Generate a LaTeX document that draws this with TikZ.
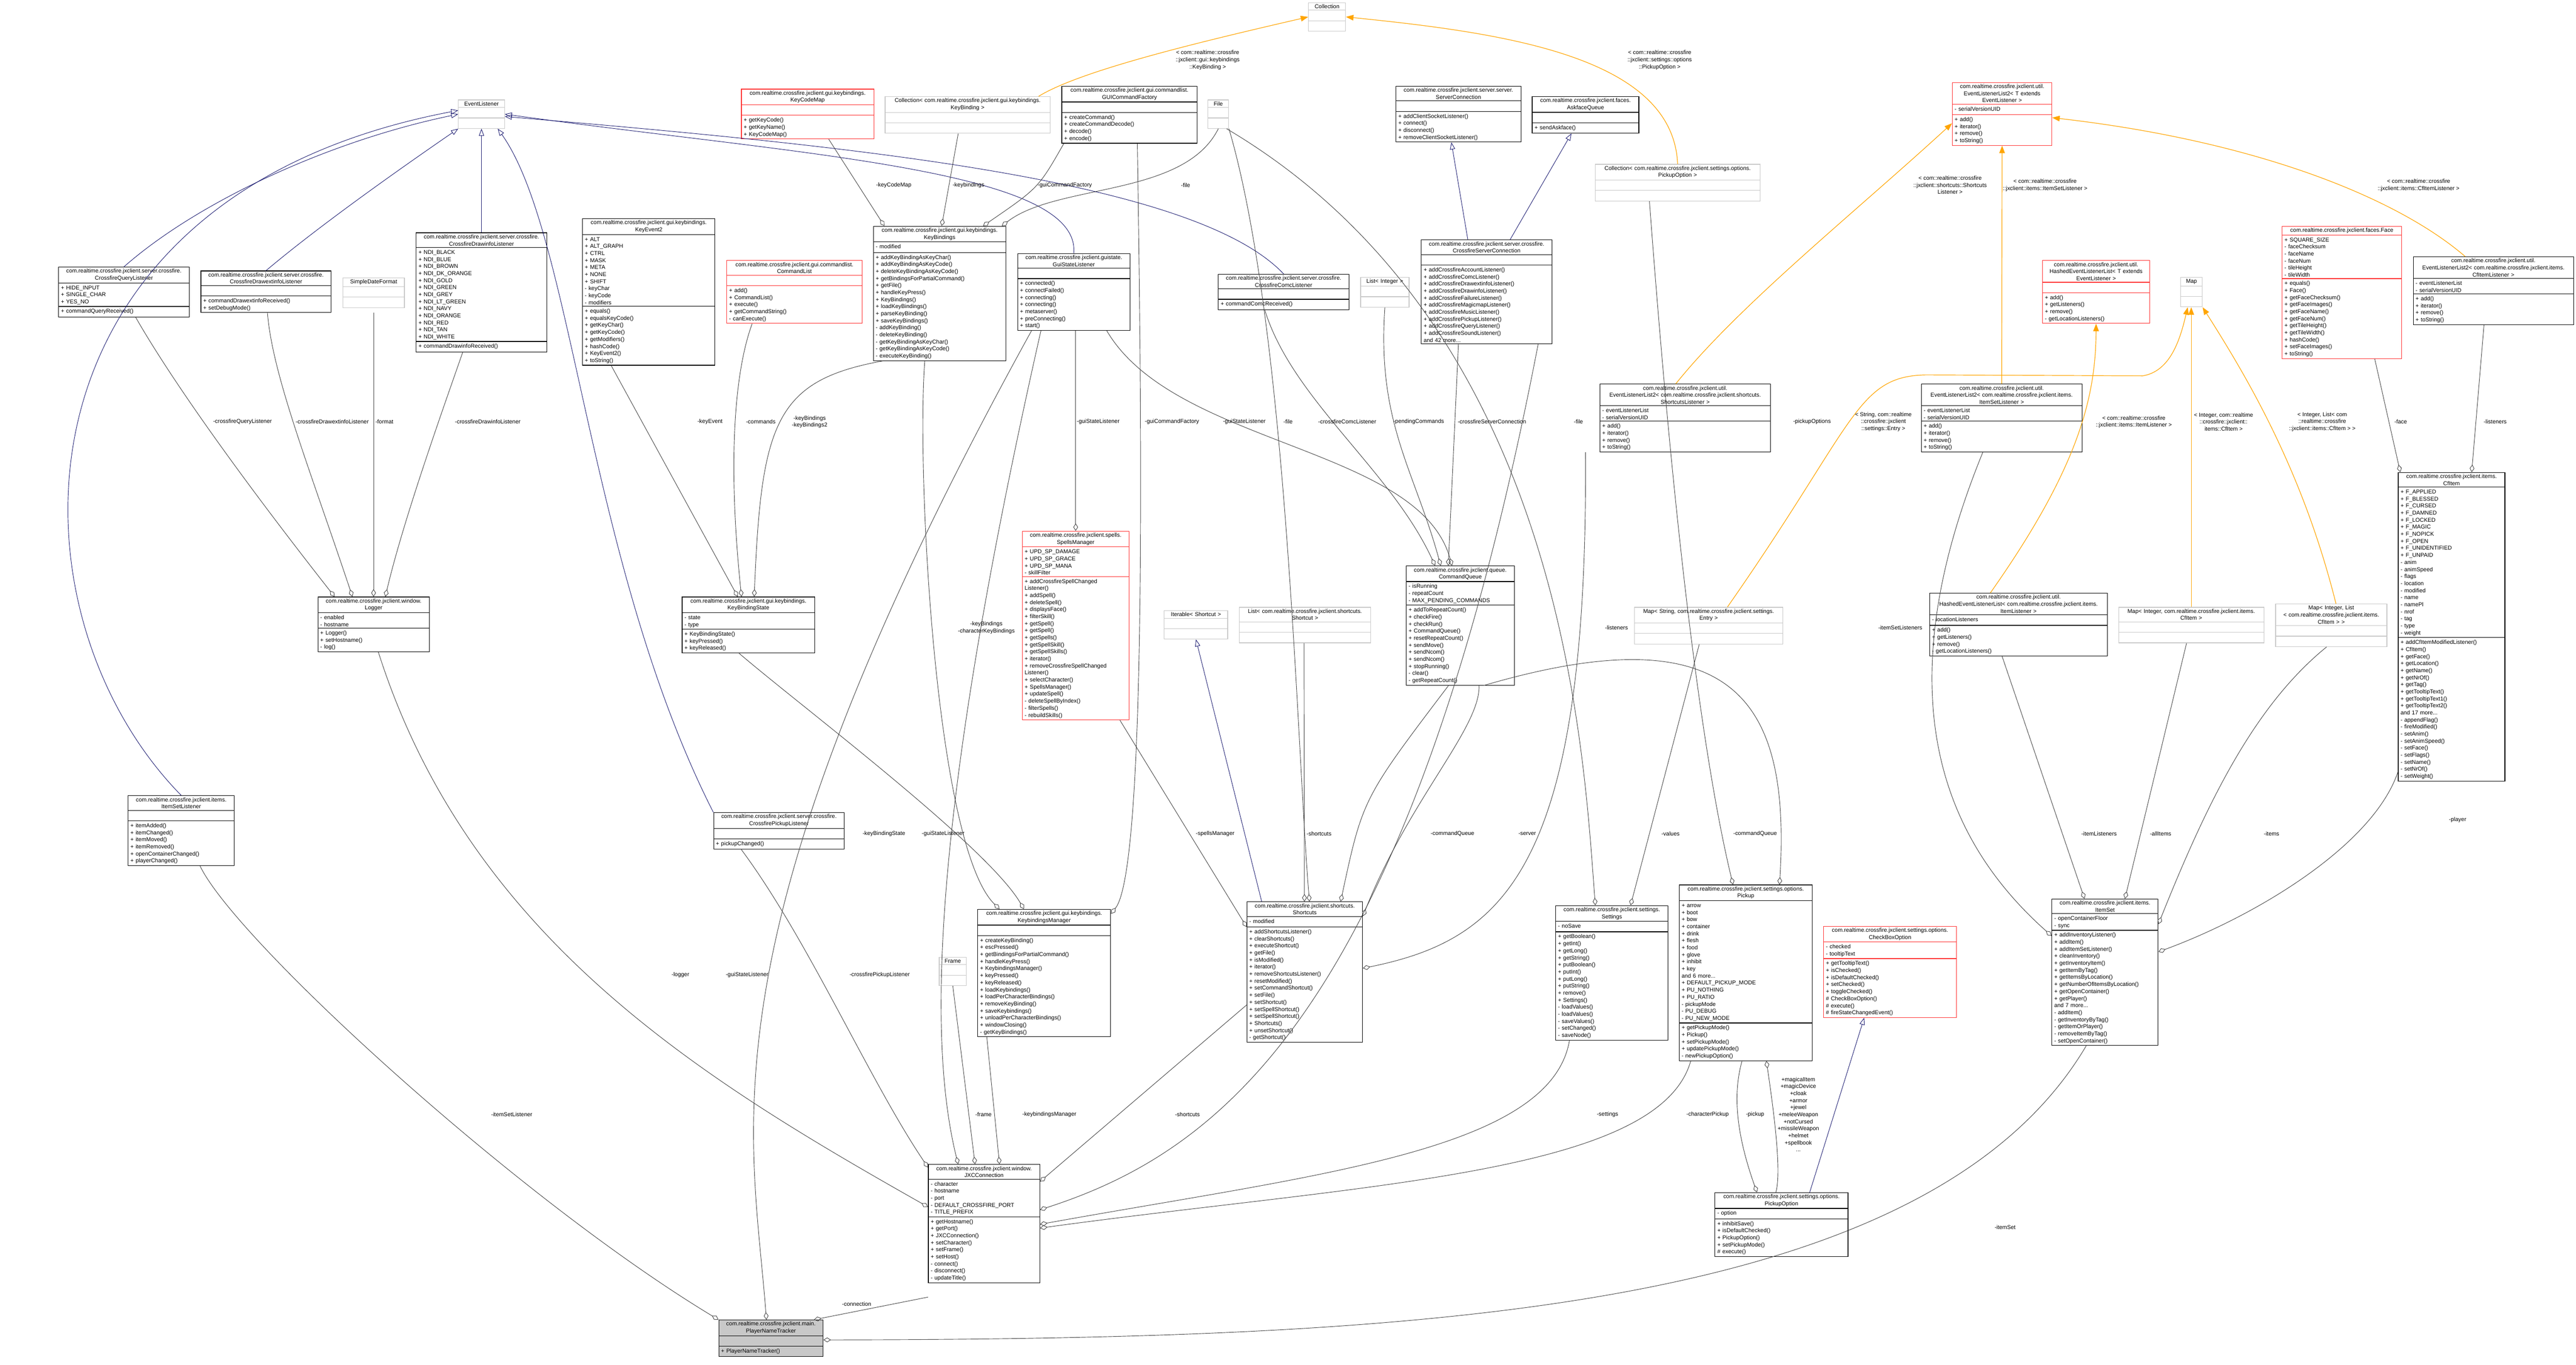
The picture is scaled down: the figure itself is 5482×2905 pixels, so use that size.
\documentclass[tikz,border=0pt]{standalone}
\usepackage{fontspec}
\setmainfont{Liberation Sans}
\usetikzlibrary{shapes.multipart,arrows.meta}
\definecolor{inhc}{HTML}{191970}
\definecolor{tmplc}{HTML}{FFA500}
\definecolor{redc}{HTML}{FF3030}
\definecolor{grayc}{HTML}{C8C8C8}
\tikzset{
 cls/.style={rectangle split, rectangle split parts=3, draw=black, line width=1.3pt, anchor=north west, align=left, inner xsep=5pt, inner ysep=3pt, font=\fontsize{12}{15}\selectfont, fill=white},
 graybox/.style={draw=grayc},
 redbox/.style={draw=redc},
 hlbox/.style={fill=grayc},
 plainbox/.style={},
 lbl/.style={font=\fontsize{12}{15}\selectfont, align=center, inner sep=1pt},
 agg/.style={draw=black!75, line width=1pt, {Diamond[open,length=16pt,width=10pt,line width=1pt]}-},
 inh/.style={draw=inhc, line width=1pt, -{Triangle[open,length=15pt,width=11pt,line width=1pt]}},
 tmpl/.style={draw=tmplc, line width=1.3pt, -{Triangle[length=16pt,width=12pt]}},
}
\newcommand\cls[8]{\node[cls,#5,text width=\the\numexpr#4-10\relax pt] (#1) at (#2,#3) {\centering #6\par\nodepart{two}\strut #7\nodepart{three}\strut #8};}
\begin{document}
\begin{tikzpicture}[x=1pt,y=-1pt]
\useasboundingbox[fill=white] (0,0) rectangle (5482,2905);
% ---------- classes ----------
\cls{el}{975}{212}{98}{graybox}{EventListener}{}{}
\cls{ql}{124}{568}{278}{plainbox}{com.realtime.crossfire.jxclient.server.crossfire.\\CrossfireQueryListener}{+ HIDE\_INPUT\\+ SINGLE\_CHAR\\+ YES\_NO}{+ commandQueryReceived()}
\cls{dx}{427}{576}{277}{plainbox}{com.realtime.crossfire.jxclient.server.crossfire.\\CrossfireDrawextinfoListener}{}{+ commandDrawextinfoReceived()\\+ setDebugMode()}
\cls{sdf}{729}{591}{131}{graybox}{SimpleDateFormat}{}{}
\cls{di}{885}{495}{278}{plainbox}{com.realtime.crossfire.jxclient.server.crossfire.\\CrossfireDrawinfoListener}{+ NDI\_BLACK\\+ NDI\_BLUE\\+ NDI\_BROWN\\+ NDI\_DK\_ORANGE\\+ NDI\_GOLD\\+ NDI\_GREEN\\+ NDI\_GREY\\+ NDI\_LT\_GREEN\\+ NDI\_NAVY\\+ NDI\_ORANGE\\+ NDI\_RED\\+ NDI\_TAN\\+ NDI\_WHITE}{+ commandDrawinfoReceived()}
\cls{ke}{1239}{465}{282}{plainbox}{com.realtime.crossfire.jxclient.gui.keybindings.\\KeyEvent2}{+ ALT\\+ ALT\_GRAPH\\+ CTRL\\+ MASK\\+ META\\+ NONE\\+ SHIFT\\- keyChar\\- keyCode\\- modifiers}{+ equals()\\+ equalsKeyCode()\\+ getKeyChar()\\+ getKeyCode()\\+ getModifiers()\\+ hashCode()\\+ KeyEvent2()\\+ toString()}
\cls{kcm}{1577}{189}{282}{redbox}{com.realtime.crossfire.jxclient.gui.keybindings.\\KeyCodeMap}{}{+ getKeyCode()\\+ getKeyName()\\+ KeyCodeMap()}
\cls{ckb}{1883}{205}{351}{graybox}{Collection< com.realtime.crossfire.jxclient.gui.keybindings.\\KeyBinding >}{}{}
\cls{gcf}{2259}{183}{288}{plainbox}{com.realtime.crossfire.jxclient.gui.commandlist.\\GUICommandFactory}{}{+ createCommand()\\+ createCommandDecode()\\+ decode()\\+ encode()}
\cls{file}{2570}{212}{44}{graybox}{File}{}{}
\cls{col}{2784}{5}{79}{graybox}{Collection}{}{}
\cls{kb}{1858}{481}{282}{plainbox}{com.realtime.crossfire.jxclient.gui.keybindings.\\KeyBindings}{- modified}{+ addKeyBindingAsKeyChar()\\+ addKeyBindingAsKeyCode()\\+ deleteKeyBindingAsKeyCode()\\+ getBindingsForPartialCommand()\\+ getFile()\\+ handleKeyPress()\\+ KeyBindings()\\+ loadKeyBindings()\\+ parseKeyBinding()\\+ saveKeyBindings()\\- addKeyBinding()\\- deleteKeyBinding()\\- getKeyBindingAsKeyChar()\\- getKeyBindingAsKeyCode()\\- executeKeyBinding()}
\cls{cl}{1546}{554}{288}{redbox}{com.realtime.crossfire.jxclient.gui.commandlist.\\CommandList}{}{+ add()\\+ CommandList()\\+ execute()\\+ getCommandString()\\- canExecute()}
\cls{gsl}{2165}{539}{239}{plainbox}{com.realtime.crossfire.jxclient.guistate.\\GuiStateListener}{}{+ connected()\\+ connectFailed()\\+ connecting()\\+ connecting()\\+ metaserver()\\+ preConnecting()\\+ start()}
\cls{comc}{2592}{583}{278}{plainbox}{com.realtime.crossfire.jxclient.server.crossfire.\\CrossfireComcListener}{}{+ commandComcReceived()}
\cls{sc}{2970}{183}{266}{plainbox}{com.realtime.crossfire.jxclient.server.server.\\ServerConnection}{}{+ addClientSocketListener()\\+ connect()\\+ disconnect()\\+ removeClientSocketListener()}
\cls{afq}{3260}{205}{227}{plainbox}{com.realtime.crossfire.jxclient.faces.\\AskfaceQueue}{}{+ sendAskface()}
\cls{cpo}{3394}{349}{351}{graybox}{Collection< com.realtime.crossfire.jxclient.settings.options.\\PickupOption >}{}{}
\cls{csc}{3024}{510}{278}{plainbox}{com.realtime.crossfire.jxclient.server.crossfire.\\CrossfireServerConnection}{}{+ addCrossfireAccountListener()\\+ addCrossfireComcListener()\\+ addCrossfireDrawextinfoListener()\\+ addCrossfireDrawinfoListener()\\+ addCrossfireFailureListener()\\+ addCrossfireMagicmapListener()\\+ addCrossfireMusicListener()\\+ addCrossfirePickupListener()\\+ addCrossfireQueryListener()\\+ addCrossfireSoundListener()\\and 42 more...}
\cls{li}{2895}{590}{103}{graybox}{List< Integer >}{}{}
\cls{ellT}{4154}{175}{212}{redbox}{com.realtime.crossfire.jxclient.util.\\EventListenerList2< T extends\\EventListener >}{- serialVersionUID}{+ add()\\+ iterator()\\+ remove()\\+ toString()}
\cls{hT}{4346}{554}{228}{redbox}{com.realtime.crossfire.jxclient.util.\\HashedEventListenerList< T extends\\EventListener >}{}{+ add()\\+ getListeners()\\+ remove()\\- getLocationListeners()}
\cls{map}{4640}{590}{46}{graybox}{Map}{}{}
\cls{face}{4856}{481}{254}{redbox}{com.realtime.crossfire.jxclient.faces.Face}{+ SQUARE\_SIZE\\- faceChecksum\\- faceName\\- faceNum\\- tileHeight\\- tileWidth}{+ equals()\\+ Face()\\+ getFaceChecksum()\\+ getFaceImages()\\+ getFaceName()\\+ getFaceNum()\\+ getTileHeight()\\+ getTileWidth()\\+ hashCode()\\+ setFaceImages()\\+ toString()}
\cls{ellcf}{5135}{546}{341}{plainbox}{com.realtime.crossfire.jxclient.util.\\EventListenerList2< com.realtime.crossfire.jxclient.items.\\CfItemListener >}{- eventListenerList\\- serialVersionUID}{+ add()\\+ iterator()\\+ remove()\\+ toString()}
\cls{logger}{676}{1270}{237}{plainbox}{com.realtime.crossfire.jxclient.window.\\Logger}{- enabled\\- hostname}{+ Logger()\\+ setHostname()\\- log()}
\cls{isl}{272}{1693}{226}{plainbox}{com.realtime.crossfire.jxclient.items.\\ItemSetListener}{}{+ itemAdded()\\+ itemChanged()\\+ itemMoved()\\+ itemRemoved()\\+ openContainerChanged()\\+ playerChanged()}
\cls{kbs}{1451}{1270}{282}{plainbox}{com.realtime.crossfire.jxclient.gui.keybindings.\\KeyBindingState}{- state\\- type}{+ KeyBindingState()\\+ keyPressed()\\+ keyReleased()}
\cls{spm}{2175}{1130}{227}{redbox}{com.realtime.crossfire.jxclient.spells.\\SpellsManager}{+ UPD\_SP\_DAMAGE\\+ UPD\_SP\_GRACE\\+ UPD\_SP\_MANA\\- skillFilter}{+ addCrossfireSpellChanged\\Listener()\\+ addSpell()\\+ deleteSpell()\\+ displaysFace()\\+ filterSkill()\\+ getSpell()\\+ getSpell()\\+ getSpells()\\+ getSpellSkill()\\+ getSpellSkills()\\+ iterator()\\+ removeCrossfireSpellChanged\\Listener()\\+ selectCharacter()\\+ SpellsManager()\\+ updateSpell()\\- deleteSpellByIndex()\\- filterSpells()\\- rebuildSkills()}
\cls{iter}{2477}{1299}{135}{graybox}{Iterable< Shortcut >}{}{}
\cls{lsc}{2637}{1292}{279}{graybox}{List< com.realtime.crossfire.jxclient.shortcuts.\\Shortcut >}{}{}
\cls{cq}{2992}{1204}{230}{plainbox}{com.realtime.crossfire.jxclient.queue.\\CommandQueue}{- isRunning\\- repeatCount\\- MAX\_PENDING\_COMMANDS}{+ addToRepeatCount()\\+ checkFire()\\+ checkRun()\\+ CommandQueue()\\+ resetRepeatCount()\\+ sendMove()\\+ sendNcom()\\+ sendNcom()\\+ stopRunning()\\- clear()\\- getRepeatCount()}
\cls{ellsl}{3404}{817}{363}{plainbox}{com.realtime.crossfire.jxclient.util.\\EventListenerList2< com.realtime.crossfire.jxclient.shortcuts.\\ShortcutsListener >}{- eventListenerList\\- serialVersionUID}{+ add()\\+ iterator()\\+ remove()\\+ toString()}
\cls{mse}{3478}{1292}{315}{graybox}{Map< String, com.realtime.crossfire.jxclient.settings.\\Entry >}{}{}
\cls{ellisl}{4088}{817}{342}{plainbox}{com.realtime.crossfire.jxclient.util.\\EventListenerList2< com.realtime.crossfire.jxclient.items.\\ItemSetListener >}{- eventListenerList\\- serialVersionUID}{+ add()\\+ iterator()\\+ remove()\\+ toString()}
\cls{hil}{4106}{1262}{378}{plainbox}{com.realtime.crossfire.jxclient.util.\\HashedEventListenerList< com.realtime.crossfire.jxclient.items.\\ItemListener >}{- locationListeners}{+ add()\\+ getListeners()\\+ remove()\\- getLocationListeners()}
\cls{mic}{4508}{1292}{309}{graybox}{Map< Integer, com.realtime.crossfire.jxclient.items.\\CfItem >}{}{}
\cls{mil}{4842}{1285}{237}{graybox}{Map< Integer, List\\< com.realtime.crossfire.jxclient.items.\\CfItem > >}{}{}
\cls{cfi}{5103}{1005}{227}{plainbox}{com.realtime.crossfire.jxclient.items.\\CfItem}{+ F\_APPLIED\\+ F\_BLESSED\\+ F\_CURSED\\+ F\_DAMNED\\+ F\_LOCKED\\+ F\_MAGIC\\+ F\_NOPICK\\+ F\_OPEN\\+ F\_UNIDENTIFIED\\+ F\_UNPAID\\- anim\\- animSpeed\\- flags\\- location\\- modified\\- name\\- namePl\\- nrof\\- tag\\- type\\- weight}{+ addCfItemModifiedListener()\\+ CfItem()\\+ getFace()\\+ getLocation()\\+ getName()\\+ getNrOf()\\+ getTag()\\+ getTooltipText()\\+ getTooltipText1()\\+ getTooltipText2()\\and 17 more...\\- appendFlag()\\- fireModified()\\- setAnim()\\- setAnimSpeed()\\- setFace()\\- setFlags()\\- setName()\\- setNrOf()\\- setWeight()}
\cls{cpl}{1518}{1729}{278}{plainbox}{com.realtime.crossfire.jxclient.server.crossfire.\\CrossfirePickupListener}{}{+ pickupChanged()}
\cls{frame}{1998}{2037}{58}{graybox}{Frame}{}{}
\cls{jxc}{1975}{2478}{237}{plainbox}{com.realtime.crossfire.jxclient.window.\\JXCConnection}{- character\\- hostname\\- port\\- DEFAULT\_CROSSFIRE\_PORT\\- TITLE\_PREFIX}{+ getHostname()\\+ getPort()\\+ JXCConnection()\\+ setCharacter()\\+ setFrame()\\+ setHost()\\- connect()\\- disconnect()\\- updateTitle()}
\cls{pnt}{1529}{2809}{222}{hlbox}{com.realtime.crossfire.jxclient.main.\\PlayerNameTracker}{}{+ PlayerNameTracker()}
\cls{kbm}{2080}{1935}{283}{plainbox}{com.realtime.crossfire.jxclient.gui.keybindings.\\KeybindingsManager}{}{+ createKeyBinding()\\+ escPressed()\\+ getBindingsForPartialCommand()\\+ handleKeyPress()\\+ KeybindingsManager()\\+ keyPressed()\\+ keyReleased()\\+ loadKeybindings()\\+ loadPerCharacterBindings()\\+ removeKeyBinding()\\+ saveKeybindings()\\+ unloadPerCharacterBindings()\\+ windowClosing()\\- getKeyBindings()}
\cls{sh}{2653}{1919}{246}{plainbox}{com.realtime.crossfire.jxclient.shortcuts.\\Shortcuts}{- modified}{+ addShortcutsListener()\\+ clearShortcuts()\\+ executeShortcut()\\+ getFile()\\+ isModified()\\+ iterator()\\+ removeShortcutsListener()\\+ resetModified()\\+ setCommandShortcut()\\+ setFile()\\+ setShortcut()\\+ setSpellShortcut()\\+ setSpellShortcut()\\+ Shortcuts()\\+ unsetShortcut()\\- getShortcut()}
\cls{set}{3310}{1927}{239}{plainbox}{com.realtime.crossfire.jxclient.settings.\\Settings}{- noSave}{+ getBoolean()\\+ getInt()\\+ getLong()\\+ getString()\\+ putBoolean()\\+ putInt()\\+ putLong()\\+ putString()\\+ remove()\\+ Settings()\\- loadValues()\\- loadValues()\\- saveValues()\\- setChanged()\\- saveNode()}
\cls{pk}{3573}{1883}{283}{plainbox}{com.realtime.crossfire.jxclient.settings.options.\\Pickup}{+ arrow\\+ boot\\+ bow\\+ container\\+ drink\\+ flesh\\+ food\\+ glove\\+ inhibit\\+ key\\and 6 more...\\+ DEFAULT\_PICKUP\_MODE\\+ PU\_NOTHING\\+ PU\_RATIO\\- pickupMode\\- PU\_DEBUG\\- PU\_NEW\_MODE}{+ getPickupMode()\\+ Pickup()\\+ setPickupMode()\\+ updatePickupMode()\\- newPickupOption()}
\cls{cbo}{3880}{1971}{283}{redbox}{com.realtime.crossfire.jxclient.settings.options.\\CheckBoxOption}{- checked\\- tooltipText}{+ getTooltipText()\\+ isChecked()\\+ isDefaultChecked()\\+ setChecked()\\+ toggleChecked()\\\# CheckBoxOption()\\\# execute()\\\# fireStateChangedEvent()}
\cls{po}{3649}{2538}{283}{plainbox}{com.realtime.crossfire.jxclient.settings.options.\\PickupOption}{- option}{+ inhibitSave()\\+ isDefaultChecked()\\+ PickupOption()\\+ setPickupMode()\\\# execute()}
\cls{is}{4366}{1913}{226}{plainbox}{com.realtime.crossfire.jxclient.items.\\ItemSet}{- openContainerFloor\\- sync}{+ addInventoryListener()\\+ addItem()\\+ addItemSetListener()\\+ cleanInventory()\\+ getInventoryItem()\\+ getItemByTag()\\+ getItemsByLocation()\\+ getNumberOfItemsByLocation()\\+ getOpenContainer()\\+ getPlayer()\\and 7 more...\\- addItem()\\- getInventoryByTag()\\- getItemOrPlayer()\\- removeItemByTag()\\- setOpenContainer()}
% ---------- inheritance ----------
\draw[inh] (ql.north) .. controls (420,430) and (700,300) .. (el.west);
\draw[inh] (dx.north) .. controls (680,480) and (850,360) .. (el.south west);
\draw[inh] (di.north) -- (di.north |- el.south);
\draw[inh] (isl.north) .. controls (0,1300) and (0,420) .. ([yshift=8pt]el.west);
\draw[inh] (cpl.north west) .. controls (1250,1200) and (1220,500) .. ([xshift=-15pt]el.south east);
\draw[inh] (gsl.north) .. controls (2300,360) and (1700,330) .. (el.east);
\draw[inh] (comc.north) .. controls (2540,380) and (1800,310) .. ([yshift=-5pt]el.east);
\draw[inh] ([xshift=-40pt]csc.north) -- ([xshift=-15pt]sc.south);
\draw[inh] ([xshift=50pt]csc.north) -- ([xshift=-30pt]afq.south);
\draw[inh] ([xshift=32pt]sh.north west) -- (iter.south);
\draw[inh] ([xshift=60pt]po.north) -- ([xshift=-55pt]cbo.south);
% ---------- templates ----------
\draw[tmpl] ([xshift=-25pt]ckb.north east) .. controls (2300,150) and (2550,90) .. (col.west);
\draw[tmpl] (cpo.north) .. controls (3560,120) and (3200,70) .. (col.east);
\draw[tmpl] ([xshift=-20pt]ellsl.north) .. controls (3700,650) and (3950,450) .. ([yshift=-20pt]ellT.west);
\draw[tmpl] (ellisl.north) -- (ellT.south);
\draw[tmpl] ([xshift=-60pt]ellcf.north) .. controls (5100,420) and (4800,300) .. ([yshift=-8pt]ellT.east);
\draw[tmpl] ([xshift=-60pt]hil.north) .. controls (4420,1000) and (4460,850) .. (hT.south);
\draw[tmpl] ([xshift=40pt]mse.north) .. controls (3950,900) and (3950,800) .. (4100,798) -- (4560,800) .. controls (4620,790) and (4640,720) .. ([xshift=-8pt]map.south);
\draw[tmpl] (mic.north) -- (mic.north |- map.south);
\draw[tmpl] ([xshift=10pt]mil.north) .. controls (4900,1000) and (4780,800) .. (map.south east);
% ---------- aggregations ----------
\draw[agg] ([xshift=24pt]kb.north west) -- ([xshift=45pt]kcm.south);
\draw[agg] ([xshift=146pt]kb.north west) -- ([xshift=-20pt]ckb.south);
\draw[agg] ([xshift=234pt]kb.north west) .. controls (2210,400) .. ([xshift=5pt]gcf.south west);
\draw[agg] ([xshift=274pt]kb.north west) .. controls (2250,390) and (2520,420) .. (file.south);
\draw[agg] ([xshift=36pt]logger.north west) .. controls (500,1000) and (360,800) .. ([xshift=25pt]ql.south);
\draw[agg] ([xshift=74pt]logger.north west) .. controls (660,1000) and (580,800) .. ([xshift=3pt]dx.south);
\draw[agg] ([xshift=119pt]logger.north west) -- (795,666);
\draw[agg] ([xshift=144pt]logger.north west) .. controls (860,1100) and (950,850) .. ([xshift=-40pt]di.south);
\draw[agg] ([xshift=119pt]kbs.north west) -- ([xshift=-80pt]ke.south);
\draw[agg] ([xshift=127pt]kbs.north west) .. controls (1550,1000) and (1560,800) .. ([xshift=-90pt]cl.south);
\draw[agg] ([xshift=154pt]kbs.north west) .. controls (1620,900) and (1650,810) .. ([xshift=20pt]kb.south west);
\draw[agg] (spm.north) -- (spm.north |- gsl.south);
\draw[agg] ([xshift=47pt]kbm.north west) .. controls (1990,1800) and (1950,1000) .. ([xshift=110pt]kb.south west);
\draw[agg] ([xshift=99pt]kbm.north west) .. controls (2100,1800) and (1700,1500) .. ([xshift=-20pt]kbs.south);
\draw[agg] ([yshift=-10pt]kbm.north east) .. controls (2440,1850) and (2430,900) .. ([xshift=-128pt]gcf.south east);
\draw[agg] ([xshift=62pt]cq.north west) .. controls (2960,1000) and (2750,850) .. ([xshift=-40pt]comc.south);
\draw[agg] ([xshift=74pt]cq.north west) .. controls (3010,1000) and (2930,900) .. (li.south);
\draw[agg] ([xshift=90pt]cq.north west) -- ([xshift=-60pt]csc.south);
\draw[agg] ([xshift=98pt]cq.north west) .. controls (3020,950) and (2500,950) .. ([xshift=-50pt]gsl.south east);
\draw[agg] ([yshift=-54pt]sh.north west) -- ([xshift=-20pt]spm.south east);
\draw[agg] ([xshift=123pt]sh.north west) -- ([xshift=138pt]lsc.south west);
\draw[agg] ([xshift=200pt]sh.north west) .. controls (2900,1700) .. ([xshift=-25pt]cq.south);
\draw[agg] ([yshift=-31pt]sh.north east) .. controls (3000,1700) and (3150,1550) .. ([xshift=40pt]cq.south);
\draw[agg] ([yshift=-142pt]sh.north east) .. controls (3200,2000) and (3380,1850) .. ([xshift=-30pt]ellsl.south west);
\draw[agg] ([xshift=10pt]sh.north) .. controls (2760,1600) and (2740,700) .. (file.south east);
\draw[agg] ([xshift=85pt]set.north west) .. controls (3370,1600) and (3330,700) .. ([xshift=-5pt]file.south east);
\draw[agg] ([xshift=160pt]set.north west) -- ([xshift=-20pt]mse.south);
\draw[agg] ([xshift=115pt]pk.north west) .. controls (3620,1600) and (3560,1100) .. ([xshift=-60pt]cpo.south);
\draw[agg] ([xshift=214pt]pk.north west) .. controls (3810,1500) and (3700,1300) .. ([xshift=50pt]cq.south);
\draw[agg] ([xshift=90pt]po.north west) .. controls (3690,2400) and (3690,2320) .. ([xshift=-8pt]pk.south);
\draw[agg] ([xshift=186pt]pk.south west) .. controls (3780,2400) and (3790,2500) .. ([xshift=-12pt]po.north);
\draw[agg] ([xshift=70pt]is.north west) -- ([xshift=-35pt]hil.south);
\draw[agg] ([xshift=156pt]is.north west) -- ([xshift=-10pt]mic.south);
\draw[agg] ([yshift=-54pt]is.north east) .. controls (4700,1700) and (4800,1500) .. ([xshift=-10pt]mil.south);
\draw[agg] ([yshift=-113pt]is.north east) .. controls (4800,1950) and (5050,1800) .. ([yshift=20pt]cfi.south west);
\draw[agg] ([yshift=-79pt]is.north west) .. controls (4150,1800) and (4000,1500) .. ([xshift=-40pt]ellisl.south);
\draw[agg] ([xshift=5pt]cfi.north west) -- ([xshift=70pt]face.south);
\draw[agg] ([xshift=157pt]cfi.north west) -- ([xshift=-20pt]ellcf.south);
\draw[agg] ([yshift=-7pt]jxc.north west) .. controls (1850,2300) and (1720,2000) .. ([xshift=-80pt]cpl.south);
\draw[agg] ([yshift=-91pt]jxc.north west) .. controls (1500,2300) and (1000,2000) .. ([xshift=10pt]logger.south);
\draw[agg] ([xshift=64pt]jxc.north west) .. controls (1970,2200) and (1990,1700) .. ([xshift=-70pt]gsl.south);
\draw[agg] ([xshift=100pt]jxc.north west) -- (frame.south);
\draw[agg] ([xshift=152pt]jxc.north west) -- ([xshift=20pt]kbm.south west);
\draw[agg] ([yshift=-37pt]jxc.north east) -- ([yshift=-70pt]sh.west);
\draw[agg] ([yshift=-97pt]jxc.north east) .. controls (2600,2450) and (3000,2150) .. ([xshift=-30pt]csc.south east);
\draw[agg] ([yshift=-128pt]jxc.north east) .. controls (2800,2500) and (3300,2450) .. ([xshift=30pt]set.south west);
\draw[agg] ([yshift=-136pt]jxc.north east) .. controls (2900,2520) and (3530,2500) .. ([xshift=25pt]pk.south west);
\draw[agg] (pnt.north west) .. controls (1100,2550) and (500,2000) .. ([xshift=40pt]isl.south);
\draw[agg] ([xshift=102pt]pnt.north west) .. controls (1600,2400) and (1480,2000) .. ([xshift=-90pt]gsl.south);
\draw[agg] ([xshift=-20pt]pnt.north east) -- ([yshift=-30pt]jxc.south west);
\draw[agg] ([yshift=-43pt]pnt.north east) .. controls (3000,2850) and (4100,2800) .. ([xshift=-40pt]is.south);
% ---------- labels ----------
\node[lbl] (l1) at (2570,128) {< com::realtime::crossfire\\::jxclient::gui::keybindings\\::KeyBinding >};
\node[lbl] (l2) at (3532,128) {< com::realtime::crossfire\\::jxclient::settings::options\\::PickupOption >};
\node[lbl] (l3) at (4150,394) {< com::realtime::crossfire\\::jxclient::shortcuts::Shortcuts\\Listener >};
\node[lbl,anchor=west] (l4) at (4261,394) {< com::realtime::crossfire\\::jxclient::items::ItemSetListener >};
\node[lbl,anchor=west] (l5) at (5059,394) {< com::realtime::crossfire\\::jxclient::items::CfItemListener >};
\node[lbl] (l6) at (1902,394) {-keyCodeMap};
\node[lbl] (l7) at (2061,394) {-keybindings};
\node[lbl] (l8) at (2266,394) {-guiCommandFactory};
\node[lbl] (l9) at (2523,394) {-file};
\node[lbl] (l10) at (516,898) {-crossfireQueryListener};
\node[lbl] (l11) at (707,898) {-crossfireDrawextinfoListener};
\node[lbl] (l12) at (818,898) {-format};
\node[lbl] (l13) at (1038,898) {-crossfireDrawinfoListener};
\node[lbl] (l14) at (1511,898) {-keyEvent};
\node[lbl] (l15) at (1619,898) {-commands};
\node[lbl] (l16) at (1723,898) {-keyBindings\\-keyBindings2};
\node[lbl] (l17) at (2337,898) {-guiStateListener};
\node[lbl] (l18) at (2494,898) {-guiCommandFactory};
\node[lbl] (l19) at (2648,898) {-guiStateListener};
\node[lbl] (l20) at (2741,898) {-file};
\node[lbl] (l21) at (2867,898) {-crossfireComcListener};
\node[lbl] (l22) at (3019,898) {-pendingCommands};
\node[lbl] (l23) at (3175,898) {-crossfireServerConnection};
\node[lbl] (l24) at (3359,898) {-file};
\node[lbl] (l25) at (3856,898) {-pickupOptions};
\node[lbl] (l26) at (4008,898) {< String, com::realtime\\::crossfire::jxclient\\::settings::Entry >};
\node[lbl] (l27) at (4541,898) {< com::realtime::crossfire\\::jxclient::items::ItemListener >};
\node[lbl] (l28) at (4732,898) {< Integer, com::realtime\\::crossfire::jxclient::\\items::CfItem >};
\node[lbl] (l29) at (4942,898) {< Integer, List< com\\::realtime::crossfire\\::jxclient::items::CfItem > >};
\node[lbl] (l30) at (5109,898) {-face};
\node[lbl] (l31) at (5310,898) {-listeners};
\node[lbl] (l32) at (2099,1336) {-keyBindings\\-characterKeyBindings};
\node[lbl] (l33) at (3440,1336) {-listeners};
\node[lbl] (l34) at (4044,1336) {-itemSetListeners};
\node[lbl] (l35) at (1881,1775) {-keyBindingState};
\node[lbl] (l36) at (2007,1775) {-guiStateListener};
\node[lbl] (l37) at (2586,1775) {-spellsManager};
\node[lbl] (l38) at (2807,1775) {-shortcuts};
\node[lbl] (l39) at (3091,1775) {-commandQueue};
\node[lbl] (l40) at (3250,1775) {-server};
\node[lbl] (l41) at (3555,1775) {-values};
\node[lbl] (l42) at (3735,1775) {-commandQueue};
\node[lbl] (l43) at (4467,1775) {-itemListeners};
\node[lbl] (l44) at (4598,1775) {-allItems};
\node[lbl] (l45) at (4834,1775) {-items};
\node[lbl] (l46) at (5230,1745) {-player};
\node[lbl] (l47) at (1448,2075) {-logger};
\node[lbl] (l48) at (1590,2075) {-guiStateListener};
\node[lbl] (l49) at (1872,2075) {-crossfirePickupListener};
\node[lbl] (l50) at (1089,2372) {-itemSetListener};
\node[lbl] (l51) at (2093,2372) {-frame};
\node[lbl] (l52) at (2233,2372) {-keybindingsManager};
\node[lbl] (l53) at (2527,2372) {-shortcuts};
\node[lbl] (l54) at (3421,2372) {-settings};
\node[lbl] (l55) at (3634,2372) {-characterPickup};
\node[lbl] (l56) at (3735,2372) {-pickup};
\node[lbl] (l57) at (3827,2372) {+magicalItem\\+magicDevice\\+cloak\\+armor\\+jewel\\+meleeWeapon\\+notCursed\\+missileWeapon\\+helmet\\+spellbook\\...};
\node[lbl] (l58) at (4267,2612) {-itemSet};
\node[lbl] (l59) at (1823,2776) {-connection};
\end{tikzpicture}
\end{document}
